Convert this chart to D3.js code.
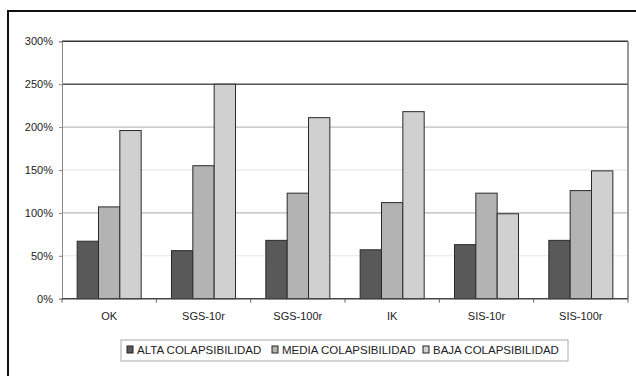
<!DOCTYPE html>
<html>
<head>
<meta charset="utf-8">
<script src="https://cdn.jsdelivr.net/npm/d3@7"></script>
<style>
  html, body { margin: 0; padding: 0; background: #fff; }
  svg { display: block; }
  text { font-family: "Liberation Sans", Arial, sans-serif; fill: #222; }
</style>
</head>
<body>
<svg id="chart" width="636" height="376"></svg>
<script>
// Categories and series
const categories = ["OK", "SGS-10r", "SGS-100r", "IK", "SIS-10r", "SIS-100r"];
const seriesNames = ["ALTA COLAPSIBILIDAD", "MEDIA COLAPSIBILIDAD", "BAJA COLAPSIBILIDAD"];
const alta  = [67, 56, 68, 57, 63, 68];
const media = [107, 155, 123, 112, 123, 126];
const baja  = [196, 250, 211, 218, 99, 149];
const yTicks = [0, 50, 100, 150, 200, 250, 300];
const seriesColors = ["#595959", "#b3b3b3", "#d0d0d0"];

const values = [alta, media, baja];
const rows = categories.map((c, i) => ({
  cat: c,
  vals: seriesNames.map((s, k) => ({ series: s, value: values[k][i] }))
}));

const svg = d3.select("#chart");
const W = 636, H = 376;

// Outer frame
svg.append("rect")
  .attr("x", 8).attr("y", 11)
  .attr("width", W + 10).attr("height", H + 10)
  .attr("fill", "none").attr("stroke", "#111").attr("stroke-width", 2);

const plot = { left: 62, right: 628, top: 41.3, bottom: 298.7 };

const x = d3.scaleBand().domain(categories).range([plot.left, plot.right]).paddingInner(0).paddingOuter(0);
const xs = d3.scaleBand().domain(seriesNames).range([0, x.bandwidth()]).paddingInner(0).paddingOuter(0.71);
const y = d3.scaleLinear().domain([0, 300]).range([plot.bottom, plot.top]);
const color = d3.scaleOrdinal().domain(seriesNames).range(seriesColors);

// Gridlines
const gridStyle = { 50: ["#e4e4e4", 1], 100: ["#a8a8a8", 1], 150: ["#e0e0e0", 1], 200: ["#ababab", 1], 250: ["#555", 1.5], 300: ["#333", 1.5] };
svg.append("g").selectAll("line")
  .data(yTicks.filter(t => t > 0))
  .join("line")
  .attr("x1", plot.left).attr("x2", plot.right)
  .attr("y1", d => y(d)).attr("y2", d => y(d))
  .attr("stroke", d => gridStyle[d][0])
  .attr("stroke-width", d => gridStyle[d][1]);

// Right edge of plot area
svg.append("line")
  .attr("x1", plot.right).attr("x2", plot.right)
  .attr("y1", plot.top).attr("y2", plot.bottom)
  .attr("stroke", "#777").attr("stroke-width", 1.5);

// Bars
const groups = svg.append("g").selectAll("g")
  .data(rows)
  .join("g")
  .attr("transform", d => `translate(${x(d.cat)},0)`);

groups.selectAll("rect")
  .data(d => d.vals)
  .join("rect")
  .attr("x", d => xs(d.series))
  .attr("y", d => y(d.value))
  .attr("width", xs.bandwidth())
  .attr("height", d => y(0) - y(d.value))
  .attr("fill", d => color(d.series))
  .attr("stroke", "#2a2a2a")
  .attr("stroke-width", 1);

// Y axis
const yAxis = svg.append("g")
  .attr("transform", `translate(${plot.left},0)`)
  .call(d3.axisLeft(y).tickValues(yTicks).tickFormat(d => d + "%").tickSize(3).tickPadding(6));
yAxis.select(".domain").attr("stroke", "#888");
yAxis.selectAll(".tick line").attr("stroke", "#888");
yAxis.selectAll("text").style("font-size", "11px").attr("fill", "#333");

// X axis with ticks at category boundaries
const xAxisG = svg.append("g").attr("transform", `translate(0,${plot.bottom})`);
xAxisG.append("line")
  .attr("x1", plot.left).attr("x2", plot.right)
  .attr("stroke", "#444").attr("stroke-width", 1.5);
const boundaries = categories.map(c => x(c)).concat([plot.right]);
xAxisG.selectAll("line.tk")
  .data(boundaries)
  .join("line").attr("class", "tk")
  .attr("x1", d => d).attr("x2", d => d)
  .attr("y1", 0).attr("y2", 4)
  .attr("stroke", "#666");
xAxisG.selectAll("text")
  .data(categories)
  .join("text")
  .attr("x", d => x(d) + x.bandwidth() / 2)
  .attr("y", 21)
  .attr("text-anchor", "middle")
  .style("font-size", "11px")
  .attr("fill", "#333")
  .text(d => d);

// Legend
const legend = svg.append("g");
legend.append("rect")
  .attr("x", 121).attr("y", 340)
  .attr("width", 447).attr("height", 21)
  .attr("fill", "#fff").attr("stroke", "#aaa").attr("stroke-width", 1);

const itemX = [127, 272, 423];
const items = legend.selectAll("g.item")
  .data(seriesNames)
  .join("g").attr("class", "item")
  .attr("transform", (d, i) => `translate(${itemX[i]},346)`);
items.append("rect")
  .attr("width", 6).attr("height", 7)
  .attr("fill", d => color(d))
  .attr("stroke", "#222").attr("stroke-width", 1);
items.append("text")
  .attr("x", 10).attr("y", 7.5)
  .style("font-size", "11.5px")
  .attr("fill", "#222")
  .text(d => d);
</script>
</body>
</html>
